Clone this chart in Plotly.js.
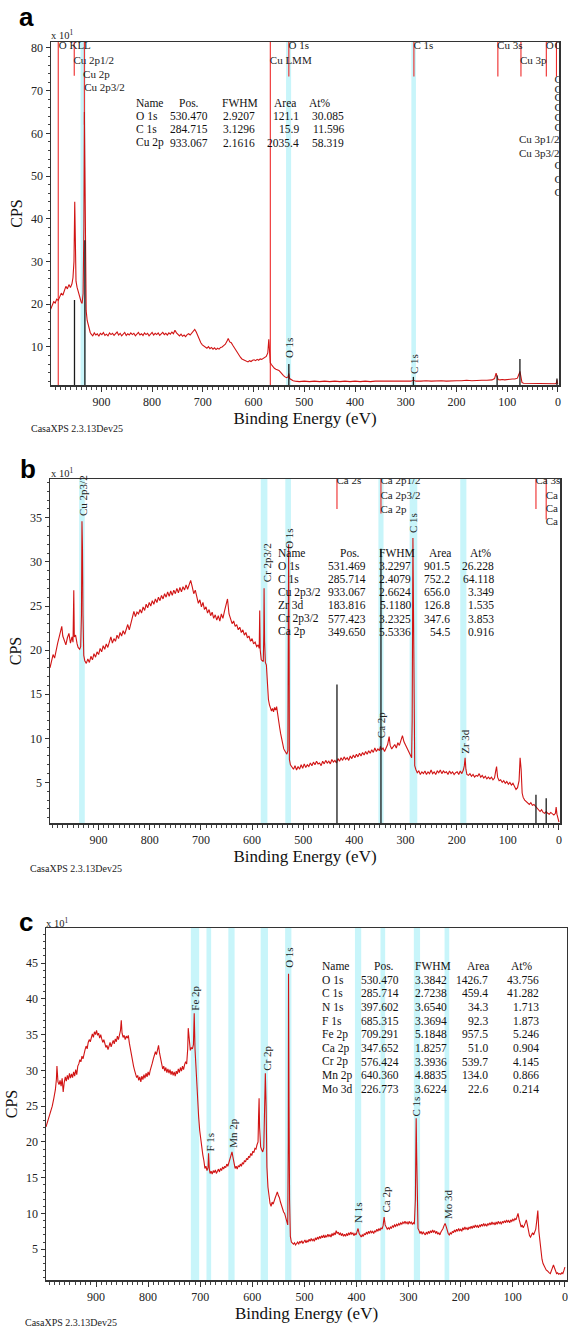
<!DOCTYPE html>
<html><head><meta charset="utf-8">
<script src="https://cdn.plot.ly/plotly-3.0.1.min.js"></script>
<style>html,body{margin:0;padding:0;background:#fff;}#chart{width:568px;height:1328px;}</style>
</head><body><div id="chart"></div>
<script>
// ---------------- DATA (binding energy eV, CPS x10) ----------------
const spectrumA = [[1000,18.8],[997,19.9],[994,20.6],[991,20.3],[988,21.2],[985,20.9],[982,22.0],[979,22.6],[976,22.1],[973,23.4],[970,24.2],[967,23.6],[964,24.6],[961,23.9],[958,24.8],[956,26.2],[954,30],[952.5,44],[951.5,29],[950,25.4],[948,24.0],[946,23.1],[944,22.5],[942,21.4],[940,20.6],[938,20.2],[936,22.5],[934.5,38],[933.5,65],[932.5,52],[931.5,28],[930,18.5],[928,16.2],[926,15.0],[924,14.1],[922,13.4],[920,13.0],[917,12.6],[914,13.3],[911,12.8],[908,13.1],[905,12.5],[902,13.2],[899,12.9],[896,13.4],[893,12.7],[890,13.0],[887,12.6],[884,13.3],[881,12.9],[878,13.2],[875,12.7],[872,13.1],[869,13.5],[866,12.8],[863,13.2],[860,12.6],[857,13.0],[854,13.4],[851,12.7],[848,13.1],[845,12.8],[842,13.3],[839,12.9],[836,13.2],[833,12.6],[830,13.0],[827,13.4],[824,12.8],[821,13.1],[818,12.7],[815,13.3],[812,12.9],[809,13.2],[806,12.6],[803,13.1],[800,13.4],[797,12.8],[794,13.2],[791,12.9],[788,13.3],[785,12.7],[782,13.1],[779,13.4],[776,12.9],[773,13.2],[770,12.8],[767,13.3],[764,13.0],[761,13.5],[758,13.1],[755,13.9],[752,13.3],[749,12.9],[746,12.6],[743,13.0],[740,12.5],[737,12.8],[734,12.4],[731,12.9],[728,13.1],[725,12.8],[722,13.3],[719,13.7],[716,14.1],[713,13.5],[710,12.6],[707,11.8],[704,11.0],[701,10.5],[698,10.2],[695,10.0],[692,9.7],[689,10.1],[686,9.6],[683,9.9],[680,9.5],[677,9.8],[674,9.4],[671,9.7],[668,9.5],[665,9.9],[662,10.0],[659,10.3],[656,10.6],[653,11.2],[650,12.0],[647,11.2],[644,11.0],[641,10.4],[638,9.8],[635,9.1],[632,8.5],[629,8.0],[626,7.6],[623,7.2],[620,7.0],[617,6.8],[614,6.7],[611,6.5],[608,6.8],[605,6.6],[602,6.9],[599,7.0],[596,6.8],[593,7.1],[590,6.9],[587,7.2],[584,7.1],[581,7.3],[578,7.5],[575,7.8],[572,8.6],[570,11.8],[568.5,9.0],[567,6.3],[565,5.9],[562,5.4],[559,5.0],[556,4.8],[553,4.6],[550,4.5],[547,4.1],[544,3.6],[541,3.3],[538,3.0],[535,2.8],[532,3.0],[530.5,3.8],[529,2.6],[526,2.3],[522,2.1],[518,2.0],[510,1.9],[500,2.0],[490,1.9],[480,2.0],[470,1.9],[460,2.0],[450,1.9],[440,2.0],[430,1.9],[420,2.0],[410,1.9],[400,2.0],[390,1.9],[380,2.0],[370,1.9],[360,2.0],[350,2.0],[340,1.9],[330,2.0],[320,2.0],[310,1.9],[300,2.0],[290,2.0],[285,2.2],[280,2.0],[270,2.0],[260,2.1],[250,2.0],[240,2.1],[230,2.1],[220,2.0],[210,2.1],[200,2.1],[190,2.1],[180,2.2],[170,2.1],[160,2.2],[150,2.2],[140,2.2],[130,2.3],[125,2.6],[122,3.9],[120,3.1],[118,2.4],[114,2.3],[110,2.4],[105,2.3],[100,2.4],[95,2.4],[90,2.5],[85,2.5],[80,2.7],[77,3.6],[75,4.3],[73,3.0],[71,1.7],[68,1.5],[64,1.5],[60,1.4],[56,1.5],[52,1.4],[48,1.5],[44,1.4],[40,1.5],[36,1.4],[32,1.5],[28,1.4],[24,1.5],[20,1.4],[16,1.5],[12,1.4],[8,1.5],[5,1.4],[3,1.6],[2,2.3],[1,1.5],[0,1.4]];

const spectrumB = [[995,18.0],[992,18.8],[989,19.5],[986,19.1],[983,20.2],[980,20.8],[977,21.5],[974,22.3],[972,22.7],[970,21.6],[967,21.0],[964,20.6],[961,21.4],[958,21.9],[955,20.8],[952,21.5],[950,20.9],[948.5,26.8],[947.5,21.5],[945,21.7],[942,20.7],[940,20.3],[937,20.1],[935,20.4],[933.5,24],[932.5,34.6],[931.5,31.5],[930.5,24],[929,19.4],[927,18.8],[924,18.5],[921,19.0],[918,18.6],[915,19.3],[912,18.9],[909,19.6],[906,19.2],[903,19.8],[900,19.5],[897,20.2],[894,19.8],[891,20.5],[888,20.1],[885,20.7],[882,20.3],[879,20.9],[876,21.5],[873,20.8],[870,21.3],[867,21.0],[864,21.7],[861,21.3],[858,22.0],[855,21.6],[852,22.2],[849,21.8],[846,22.4],[843,22.9],[840,22.3],[837,23.0],[834,23.6],[831,24.4],[828,23.8],[825,24.3],[822,24.1],[819,24.6],[816,24.2],[813,24.9],[810,24.5],[807,25.2],[804,24.8],[801,25.4],[798,25.0],[795,25.6],[792,25.2],[789,25.8],[786,25.4],[783,26.0],[780,25.6],[777,26.2],[774,25.8],[771,26.4],[768,26.0],[765,26.6],[762,26.1],[759,26.7],[756,26.2],[753,26.8],[750,26.4],[747,27.0],[744,26.5],[741,27.1],[738,26.6],[735,27.2],[732,26.8],[729,27.4],[726,26.9],[723,27.3],[720,27.9],[717,27.2],[714,26.4],[711,26.8],[708,25.9],[705,25.3],[702,25.7],[699,24.9],[696,25.4],[693,24.6],[690,24.9],[687,24.2],[684,24.6],[681,23.9],[678,24.3],[675,23.6],[672,24.0],[669,23.4],[666,23.9],[663,23.3],[660,24.1],[657,23.6],[654,24.4],[651,25.2],[648,25.8],[645,24.1],[642,23.5],[639,23.0],[636,23.3],[633,22.7],[630,22.9],[627,22.3],[624,22.6],[621,22.0],[618,22.3],[615,21.7],[612,22.0],[609,21.4],[606,21.6],[603,21.0],[600,21.3],[597,20.7],[594,20.9],[591,20.4],[588,20.6],[586,20.2],[585,24.5],[584,20.0],[582,18.9],[580,18.8],[578,18.7],[577,22],[576.5,27.0],[575.5,21],[574,18.6],[572,18.3],[570,15.5],[568,14.4],[566,13.8],[564,13.3],[562,13.1],[560,13.4],[558,13.0],[556,13.5],[554,13.2],[552,13.6],[550,12.6],[548,12.0],[546,11.2],[544,10.5],[542,9.9],[540,9.3],[538,8.8],[536,8.6],[534,8.4],[532,8.2],[530,8.6],[529,20],[528.5,32],[527.5,20],[527,7.6],[525,7.0],[522,6.8],[519,6.5],[516,6.9],[513,6.4],[510,6.8],[507,6.5],[504,7.0],[501,6.6],[498,7.1],[495,6.7],[492,7.0],[489,6.8],[486,7.2],[483,6.9],[480,7.3],[477,7.0],[474,7.4],[471,7.1],[468,7.2],[465,6.9],[462,7.4],[459,7.1],[456,7.5],[453,7.2],[450,7.4],[447,7.1],[444,7.6],[441,7.3],[438,7.5],[435,7.2],[432,7.7],[429,7.4],[426,7.8],[423,7.5],[420,7.9],[417,7.6],[414,7.8],[411,7.5],[408,8.0],[405,7.7],[402,8.1],[399,7.8],[396,8.2],[393,7.9],[390,8.3],[387,8.0],[384,8.4],[381,8.1],[378,8.5],[375,8.2],[372,8.6],[369,8.3],[366,8.7],[363,8.4],[360,8.9],[357,8.5],[354,8.8],[351,8.6],[349,9.1],[347,8.7],[344,8.9],[341,8.5],[338,8.9],[335,9.3],[332,10.2],[330,9.2],[327,8.8],[324,9.0],[321,9.3],[318,8.9],[315,9.5],[312,9.2],[309,9.7],[306,10.3],[303,9.6],[300,9.2],[297,8.9],[294,8.6],[291,8.2],[288,7.8],[287,12],[286,25],[285.5,32.7],[284.5,25],[283.5,12],[282,6.9],[280,6.5],[277,6.1],[274,6.3],[271,5.9],[268,6.2],[265,6.0],[262,6.3],[259,5.9],[256,6.2],[253,6.0],[250,6.4],[247,6.0],[244,6.2],[241,5.9],[238,6.3],[235,6.1],[232,6.4],[229,6.0],[226,6.3],[223,6.1],[220,6.2],[217,5.9],[214,6.3],[211,6.0],[208,6.2],[205,5.9],[202,6.1],[199,6.2],[196,5.9],[193,6.3],[190,6.0],[187,6.4],[185,6.9],[183.5,7.8],[182,6.5],[180,5.9],[177,5.8],[174,6.0],[171,5.7],[168,5.9],[165,5.6],[162,5.8],[159,5.7],[156,6.0],[153,5.6],[150,5.8],[147,5.5],[144,5.7],[141,5.4],[138,5.6],[135,5.4],[132,5.6],[129,5.3],[126,5.5],[124,6.2],[122,6.8],[120,5.6],[117,5.2],[114,5.3],[111,5.0],[108,5.2],[105,4.9],[102,5.1],[99,4.8],[96,5.0],[93,4.7],[90,4.9],[87,4.5],[84,4.2],[81,4.4],[78,5.2],[76,7.8],[74,6.5],[72,3.8],[70,3.3],[67,3.0],[64,2.8],[61,2.6],[58,2.5],[55,2.7],[52,2.4],[49,2.5],[46,2.3],[43,2.1],[40,1.8],[37,1.7],[34,1.9],[31,1.6],[28,1.5],[25,1.7],[22,1.5],[19,1.4],[16,1.6],[13,1.4],[10,1.3],[7,1.5],[5.5,2.2],[4,1.4],[2,0.8],[0,0.5]];

const spectrumC = [[996,22.1],[993,22.8],[990,23.6],[987,24.2],[984,25.0],[981,26.1],[978,27.3],[976,28.8],[975,30.6],[973,28.4],[971,28.0],[969,28.6],[967,27.8],[965,28.9],[963,27.0],[961,28.3],[959,29.1],[957,28.5],[955,29.3],[953,28.7],[951,29.6],[949,28.9],[947,29.5],[945,29.0],[943,29.8],[941,29.2],[939,30.1],[937,29.4],[935,30.6],[933,30.9],[931,31.5],[929,31.2],[927,32.0],[925,31.6],[923,32.4],[921,32.9],[919,33.4],[917,33.0],[915,33.9],[913,34.3],[911,34.0],[909,34.8],[907,35.1],[905,34.6],[903,35.4],[901,35.0],[899,35.6],[897,34.9],[895,35.2],[893,34.5],[891,35.0],[889,34.4],[887,33.9],[885,34.3],[883,33.6],[881,33.2],[879,33.5],[877,32.9],[875,33.4],[873,33.9],[871,33.3],[869,33.8],[867,34.2],[865,33.7],[863,34.4],[861,34.0],[859,34.8],[857,34.3],[855,35.0],[853,35.6],[851.5,37.0],[850,35.2],[848,34.6],[846,34.9],[844,34.3],[842,34.8],[840,34.5],[838,34.9],[836,33.8],[834,32.9],[832,32.0],[830,31.3],[828,30.6],[826,30.0],[824,29.5],[822,29.0],[820,29.3],[818,28.6],[816,29.1],[814,28.4],[812,29.2],[810,28.7],[808,29.4],[806,28.9],[804,29.6],[802,29.1],[800,29.8],[798,29.3],[796,30.0],[794,30.4],[792,31.0],[790,31.6],[788,32.1],[786,32.6],[784,32.2],[782,32.9],[780,33.5],[778,32.4],[776,31.5],[774,30.9],[772,30.2],[770,30.6],[768,29.9],[766,30.4],[764,29.7],[762,30.2],[760,29.6],[758,30.1],[756,29.4],[754,29.9],[752,29.3],[750,29.8],[748,29.2],[746,29.9],[744,29.5],[742,30.2],[740,29.7],[738,30.4],[736,29.9],[734,30.6],[732,30.1],[730,30.8],[728,31.2],[726,30.9],[724,33.0],[723,35.9],[721,33.5],[719,32.8],[717,33.2],[715,33.0],[713,33.6],[711.5,38.0],[710,33.0],[708.5,30.5],[707,28.0],[705,25.8],[703,23.5],[701,21.6],[699,20.2],[697,19.3],[695,18.2],[693,17.4],[691,16.3],[689,16.6],[687,16.0],[685,16.4],[684,18.4],[682.5,16.2],[681,15.6],[679,15.9],[677,15.5],[675,16.0],[673,15.7],[671,16.1],[669,15.6],[667,15.9],[665,16.2],[663,15.8],[661,16.3],[659,16.0],[657,16.5],[655,16.2],[653,16.6],[651,16.4],[649,16.9],[647,16.6],[645,17.2],[643,17.6],[641,18.2],[639,18.6],[637,17.8],[635,16.9],[633,16.3],[631,16.6],[629,16.2],[627,16.7],[625,16.5],[623,16.9],[621,16.6],[619,17.1],[617,16.9],[615,17.4],[613,17.2],[611,17.7],[609,17.5],[607,18.0],[605,17.8],[603,18.4],[601,18.1],[599,18.7],[597,18.5],[595,19.1],[593,19.0],[591,19.6],[589,20.0],[588,23.5],[587,26.1],[586,22.0],[584,19.3],[582,18.9],[580,18.6],[578,19.2],[576,24.5],[575,29.6],[573.5,25.0],[572,16.5],[570,13.7],[568,12.2],[566,11.4],[564,11.0],[562,11.6],[560,11.3],[558,11.9],[556,12.2],[554,12.6],[552,13.0],[550,12.5],[548,12.2],[546,11.6],[544,11.1],[542,10.6],[540,10.2],[538,10.0],[536,9.4],[534,8.9],[532,8.4],[531,20],[530.5,43.5],[529.5,25],[528.5,12],[527,6.8],[525,6.0],[523,5.9],[521,5.7],[519,5.9],[517,5.6],[515,5.8],[513,6.0],[511,5.7],[509,6.1],[507,5.9],[505,6.2],[503,5.8],[501,6.1],[499,6.3],[497,5.9],[495,6.2],[493,6.0],[491,6.4],[489,6.1],[487,6.5],[485,6.2],[483,6.4],[481,6.1],[479,6.6],[477,6.3],[475,6.7],[473,6.4],[471,6.8],[469,6.5],[467,6.9],[465,6.6],[463,7.0],[461,6.6],[459,6.9],[457,6.7],[455,7.1],[453,6.8],[451,7.0],[449,6.7],[447,7.2],[445,6.9],[443,7.3],[441,7.0],[439,7.6],[437,7.2],[435,7.4],[433,7.0],[431,7.3],[429,6.9],[427,7.2],[425,6.8],[423,7.1],[421,6.8],[419,7.2],[417,6.9],[415,7.3],[413,7.0],[411,7.4],[409,7.1],[407,7.3],[405,6.9],[403,7.2],[401,7.0],[399,7.4],[397,7.9],[395,7.2],[393,6.8],[391,6.7],[389,7.0],[387,6.8],[385,7.2],[383,7.0],[381,7.4],[379,7.1],[377,7.5],[375,7.2],[373,7.6],[371,7.3],[369,7.5],[367,7.2],[365,7.6],[363,7.4],[361,7.8],[359,7.5],[357,7.9],[355,7.6],[353,8.0],[351,7.8],[349,8.3],[347,9.5],[345,8.4],[343,8.0],[341,7.8],[339,8.0],[337,7.8],[335,8.1],[333,7.9],[331,8.3],[329,8.1],[327,8.4],[325,8.2],[323,8.5],[321,8.3],[319,8.6],[317,8.4],[315,8.7],[313,8.5],[311,8.8],[309,8.6],[307,8.9],[305,8.6],[303,8.8],[301,8.5],[299,8.9],[297,8.6],[295,8.8],[293,8.5],[291,8.7],[289,8.5],[287,12],[286,20],[285.5,23.3],[284.5,18],[283.5,10],[282,7.9],[280,7.6],[278,7.2],[276,7.5],[274,7.1],[272,7.4],[270,7.2],[268,7.0],[266,7.4],[264,7.1],[262,7.5],[260,7.2],[258,7.6],[256,7.3],[254,7.7],[252,7.4],[250,7.6],[248,7.2],[246,7.5],[244,7.1],[242,7.3],[240,7.0],[238,7.4],[236,7.6],[234,7.9],[232,8.3],[230,8.6],[228,8.2],[226,7.6],[224,7.2],[222,7.0],[220,7.3],[218,7.1],[216,7.5],[214,7.3],[212,7.7],[210,7.4],[208,7.8],[206,7.5],[204,7.9],[202,7.6],[200,7.8],[198,7.5],[196,8.0],[194,7.7],[192,8.1],[190,7.8],[188,8.0],[186,7.7],[184,8.1],[182,7.9],[180,8.2],[178,7.9],[176,8.3],[174,8.0],[172,8.4],[170,8.1],[168,8.3],[166,8.0],[164,8.4],[162,8.2],[160,8.5],[158,8.2],[156,8.6],[154,8.3],[152,8.5],[150,8.2],[148,8.6],[146,8.4],[144,8.7],[142,8.4],[140,8.8],[138,8.5],[136,8.7],[134,8.4],[132,8.8],[130,8.5],[128,8.9],[126,8.6],[124,8.8],[122,8.5],[120,8.9],[118,8.7],[116,9.0],[114,8.7],[112,9.1],[110,8.8],[108,9.0],[106,8.7],[104,9.1],[102,8.9],[100,9.2],[98,9.0],[96,9.3],[94,9.1],[92,9.6],[90,10.0],[88,9.2],[86,8.6],[84,8.1],[82,8.4],[80,8.0],[78,8.3],[76,8.6],[74,9.1],[72,8.4],[70,7.5],[68,6.9],[66,6.7],[64,7.0],[62,7.3],[60,7.0],[58,7.3],[56,7.8],[54,9.0],[52,10.4],[50,7.5],[48,5.8],[46,4.6],[44,3.6],[42,3.0],[40,2.6],[38,2.3],[36,2.1],[34,2.0],[32,1.8],[30,1.7],[28,1.6],[26,1.9],[24,2.4],[22,2.8],[20,2.3],[18,1.8],[16,1.6],[14,1.7],[12,1.5],[10,1.6],[8,1.5],[6,1.7],[4,1.6],[2,2.0],[0,2.5]];

// peak-label marker lines drawn from the top: [energy, lower end (null = full height)]
const redLinesA = [[985,null],[953.5,73.5],[933.5,62],[567,null],[530.5,73.3],[284,73.3],[118.5,73.3],[73,73.3],[23,73.3],[3,73.3]];
const redLinesB = [[434,36],[348,35.5],[45,36],[25,34.8]];
// component marker lines drawn from the bottom: [energy, upper end]
const blackLinesA = [[953,21],[932.5,35],[530.5,6],[285,3.0],[120,3.3],[75,7.2],[2,2.6]];
const blackLinesB = [[434,16.1],[348,31.5],[45,3.6],[25,3.2]];
// highlighted regions [from, to] eV
const bandsA = [[941,931],[536,526],[289,280]];
const bandsB = [[938,927],[583,570],[535,524],[353,343],[292,277],[193,181]];
const bandsC = [[718,702],[688,679],[646,634],[584,570],[537,525],[403,391],[354,345],[290,278],[231,222]];
// horizontal peak labels [text, energy, value]
const labelsA = [["O KLL",984,80.3],["Cu 2p1/2",955,76.8],["Cu 2p",936,73.7],["Cu 2p3/2",934,70.6],["O 1s",531,80.3],["Cu LMM",568,76.8],["C 1s",285,80.3],["Cu 3s",120,80.3],["Cu 3p",75,76.8],["O",24,80.3],["Cu 3p1/2",77,58.5],["Cu 3p3/2",77,55.2],["O",7,80.3],["Cu",7,72.5],["Cu",7,70.2],["Cu",7,68.2],["Cu",7,65.9],["Cu",7,63.5],["Cu",7,61.3],["Cu",7,52.2],["Cu",7,49.1],["Cu",7,46.0]];
const labelsB = [["Ca 2s",435,39.1],["Ca 2p1/2",349,39.1],["Ca 2p3/2",349,37.4],["Ca 2p",349,35.9],["Ca 3s",46,39.1],["Ca",26,37.4],["Ca",26,36.0],["Ca",26,34.5]];
// rotated peak labels [text, energy, value]
const rotLabelsA = [["O 1s",530.5,9.7],["C 1s",284,6.0]];
const rotLabelsB = [["Cu 2p3/2",930,37.5],["Cr 2p3/2",572,29.9],["O 1s",528,32.6],["C 1s",285.4,34.4],["Ca 2p",347.7,11.5],["Zr 3d",184,9.7]];
const rotLabelsC = [["Fe 2p",709,40.1],["O 1s",530,45.7],["Cr 2p",571,31.7],["F 1s",682,20.0],["Mn 2p",637,21.3],["C 1s",285,25.0],["N 1s",396,10.0],["Ca 2p",344,11.9],["Mo 3d",224.5,11.3]];
// quantification tables
const tableHeader = ["Name","Pos.","FWHM","Area","At%"];
const namesA = ["O 1s","C 1s","Cu 2p"];
const posA = ["530.470","284.715","933.067"];
const fwhmA = ["2.9207","3.1296","2.1616"];
const areaA = ["121.1","15.9","2035.4"];
const atA = ["30.085","11.596","58.319"];
const namesB = ["O 1s","C 1s","Cu 2p3/2","Zr 3d","Cr 2p3/2","Ca 2p"];
const posB = ["531.469","285.714","933.067","183.816","577.423","349.650"];
const fwhmB = ["3.2297","2.4079","2.6624","5.1180","3.2325","5.5336"];
const areaB = ["901.5","752.2","656.0","126.8","347.6","54.5"];
const atB = ["26.228","64.118","3.349","1.535","3.853","0.916"];
const namesC = ["O 1s","C 1s","N 1s","F 1s","Fe 2p","Ca 2p","Cr 2p","Mn 2p","Mo 3d"];
const posC = ["530.470","285.714","397.602","685.315","709.291","347.652","576.424","640.360","226.773"];
const fwhmC = ["3.3842","2.7238","3.6540","3.3694","5.1848","1.8257","3.3936","4.8835","3.6224"];
const areaC = ["1426.7","459.4","34.3","92.3","957.5","51.0","539.7","134.0","22.6"];
const atC = ["43.756","41.282","1.713","1.873","5.246","0.904","4.145","0.866","0.214"];

// ---------------- LAYOUT ----------------
const W = 568, H = 1328;
const fx = x => x / W, fy = y => 1 - y / H;
const SERIF = 'Liberation Serif';
const SANS = 'Liberation Sans';

const panels = [
  {n:'', spec:spectrumA, red:redLinesA, black:blackLinesA, bands:bandsA, labels:labelsA, rot:rotLabelsA,
   dom:[51,559,42,385], xr:[999.3,-2], yr:[1.1,81.4], dt:10, mdt:2, letter:'a', letterPos:[26,17],
   xten:[62,35], casa:[29,428],
   table:{names:namesA,pos:posA,fwhm:fwhmA,area:areaA,at:atA, top:103, dy:13.2, nameX:134, posR:210, fwhmR:257, areaR:301, atR:346, hdr:[189,240,285,320]}},
  {n:'2', spec:spectrumB, red:redLinesB, black:blackLinesB, bands:bandsB, labels:labelsB, rot:rotLabelsB,
   dom:[50,560,479,823], xr:[995,-2], yr:[0.4,39.4], dt:5, mdt:1, letter:'b', letterPos:[28,469],
   xten:[62,472], casa:[28,868],
   table:{names:namesB,pos:posB,fwhm:fwhmB,area:areaB,at:atB, top:553, dy:13.1, nameX:276, posR:368, fwhmR:413, areaR:452, atR:496, hdr:[349.6,396.7,440,481]}},
  {n:'3', spec:spectrumC, red:[], black:[], bands:bandsC, labels:[], rot:rotLabelsC,
   dom:[46,567,928,1280], xr:[996,-4], yr:[0.7,49.9], dt:5, mdt:1, letter:'c', letterPos:[26,922],
   xten:[57,922], casa:[22.5,1322],
   table:{names:namesC,pos:posC,fwhm:fwhmC,area:areaC,at:atC, top:966, dy:13.67, nameX:319.6, posR:401.4, fwhmR:448.6, areaR:490, atR:540.6, hdr:[384,433,478,522]}}
];

const traces = [], shapes = [], annotations = [];
const layout = {
  width: W, height: H, margin:{l:0,r:0,t:0,b:0}, paper_bgcolor:'#fff', plot_bgcolor:'#fff',
  showlegend:false, hovermode:false, font:{family:SERIF, color:'#111'}
};
const tickFont = {family:SERIF, size:12, color:'#222'};
const lblFont = {family:SERIF, size:11, color:'#222'};
const tblFont = {family:SERIF, size:11.5, color:'#111'};

panels.forEach(p => {
  const xa = 'x' + p.n, ya = 'y' + p.n;
  layout['xaxis' + p.n] = {
    domain:[fx(p.dom[0]), fx(p.dom[1])], range:p.xr, anchor:ya,
    tickmode:'linear', tick0:0, dtick:100, ticks:'outside', ticklen:5, tickwidth:1, tickcolor:'#333',
    minor:{tickmode:'linear', tick0:0, dtick:10, ticks:'outside', ticklen:3, tickwidth:1, tickcolor:'#444'},
    showline:true, mirror:true, linecolor:'#333', linewidth:1.5, showgrid:false, zeroline:false,
    tickfont:tickFont, fixedrange:true,
    title:{text:'Binding Energy (eV)', font:{family:SERIF, size:17, color:'#111'}, standoff:1}
  };
  layout['yaxis' + p.n] = {
    domain:[fy(p.dom[3]), fy(p.dom[2])], range:p.yr, anchor:xa,
    tickmode:'linear', tick0:0, dtick:p.dt, ticks:'outside', ticklen:4, tickwidth:1, tickcolor:'#333',
    minor:{tickmode:'linear', tick0:0, dtick:p.mdt, ticks:'outside', ticklen:2, tickwidth:1, tickcolor:'#444'},
    showline:true, mirror:true, linecolor:'#333', linewidth:1.5, showgrid:false, zeroline:false,
    tickfont:tickFont, fixedrange:true,
    title:{text:'CPS', font:{family:SERIF, size:16, color:'#111'}, standoff:4}
  };
  p.bands.forEach(b => shapes.push({type:'rect', xref:xa, yref:ya + ' domain', x0:b[0], x1:b[1], y0:0, y1:1,
    fillcolor:'#c8f5fa', line:{width:0}, layer:'below'}));
  if (p.red.length) {
    const x = [], y = [];
    p.red.forEach(([e, lo]) => { x.push(e, e, null); y.push(lo === null ? p.yr[0] : lo, p.yr[1], null); });
    traces.push({type:'scatter', mode:'lines', x, y, xaxis:xa, yaxis:ya, line:{color:'#ee2a2a', width:1.1}, hoverinfo:'skip'});
  }
  traces.push({type:'scatter', mode:'lines', x:p.spec.map(d => d[0]), y:p.spec.map(d => d[1]),
    xaxis:xa, yaxis:ya, line:{color:'#d11414', width:1.1}, hoverinfo:'skip'});
  if (p.black.length) {
    const x = [], y = [];
    p.black.forEach(([e, hi]) => { x.push(e, e, null); y.push(p.yr[0], hi, null); });
    traces.push({type:'scatter', mode:'lines', x, y, xaxis:xa, yaxis:ya, line:{color:'#1a1a1a', width:1.3}, hoverinfo:'skip'});
  }
  if (p.labels.length) {
    traces.push({type:'scatter', mode:'text', x:p.labels.map(l => l[1]), y:p.labels.map(l => l[2]),
      text:p.labels.map(l => l[0]), textposition:'middle right', textfont:lblFont, cliponaxis:true,
      xaxis:xa, yaxis:ya, hoverinfo:'skip'});
  }
  p.rot.forEach(([t, e, v]) => annotations.push({x:e, y:v, xref:xa, yref:ya, text:t, textangle:-90,
    showarrow:false, font:lblFont, xanchor:'center', yanchor:'middle'}));
  annotations.push({x:fx(p.letterPos[0]), y:fy(p.letterPos[1]), xref:'paper', yref:'paper', text:'<b>' + p.letter + '</b>',
    showarrow:false, font:{family:SANS, size:26, color:'#000'}, xanchor:'center', yanchor:'middle'});
  annotations.push({x:fx(p.xten[0]), y:fy(p.xten[1]), xref:'paper', yref:'paper', text:'x 10<sup>1</sup>',
    showarrow:false, font:{family:SERIF, size:10.5, color:'#222'}, xanchor:'center', yanchor:'middle'});
  annotations.push({x:fx(p.casa[0]), y:fy(p.casa[1]), xref:'paper', yref:'paper', text:'CasaXPS 2.3.13Dev25',
    showarrow:false, font:{family:SERIF, size:10, color:'#222'}, xanchor:'left', yanchor:'middle'});
  const t = p.table;
  const A = (x, y, text, xanchor) => annotations.push({x:fx(x), y:fy(y), xref:'paper', yref:'paper', text,
    showarrow:false, font:tblFont, xanchor, yanchor:'middle'});
  A(t.nameX, t.top, tableHeader[0], 'left');
  t.hdr.forEach((hx, i) => A(hx, t.top, tableHeader[i + 1], 'center'));
  t.names.forEach((nm, i) => {
    const y = t.top + t.dy * (i + 1);
    A(t.nameX, y, nm, 'left');
    A(t.posR, y, t.pos[i], 'right');
    A(t.fwhmR, y, t.fwhm[i], 'right');
    A(t.areaR, y, t.area[i], 'right');
    A(t.atR, y, t.at[i], 'right');
  });
});
layout.shapes = shapes;
layout.annotations = annotations;
Plotly.newPlot('chart', traces, layout, {staticPlot:true, displayModeBar:false});
</script></body></html>
